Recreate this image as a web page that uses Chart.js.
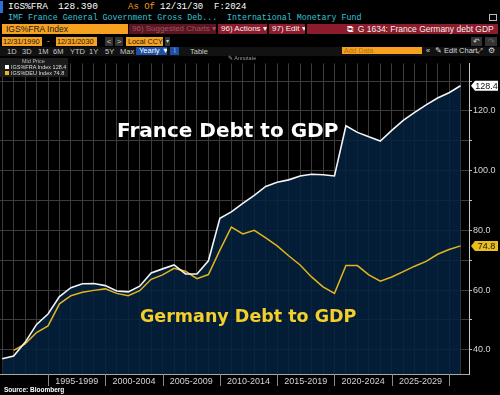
<!DOCTYPE html>
<html>
<head>
<meta charset="utf-8">
<script src="https://cdn.jsdelivr.net/npm/chart.js@4.4.1/dist/chart.umd.min.js"></script>
<style>
body { margin: 0; background: #000; width: 500px; height: 395px; overflow: hidden; position: relative; font-family: "Liberation Sans", Arial, sans-serif; }
.a { position: absolute; white-space: nowrap; }
.mono { font-family: "Liberation Mono", "DejaVu Sans Mono", monospace; }
.box { position: absolute; white-space: nowrap; box-sizing: border-box; overflow: hidden; }
.or { background: #f6a11f; color: #1a1a1a; }
.red { background: #8c1b2c; color: #f0f0f0; }
.btn { background: #333; color: #ccc; text-align: center; }
#wrap { position: absolute; left: 0; top: 57px; width: 500px; height: 338px; }
.big { position: absolute; white-space: nowrap; font-family: "DejaVu Sans", Verdana, sans-serif; font-weight: bold; z-index: 5; }
</style>
</head>
<body>
<!-- header rows -->
<div class="box" style="left:0;top:1px;width:3px;height:12px;background:#2f6fd8"></div>
<div class="a mono" style="left:8px;top:0;font-size:9.5px;line-height:14px;color:#fff">IGS%FRA</div>
<div class="a mono" style="left:58px;top:0;font-size:9.5px;line-height:14px;color:#fff">128.390</div>
<div class="a mono" style="left:128px;top:0;font-size:9px;line-height:14px;color:#f39a1e">As Of</div>
<div class="a mono" style="left:160px;top:0;font-size:9px;line-height:14px;color:#fff">12/31/30</div>
<div class="a mono" style="left:214px;top:0;font-size:9px;line-height:14px;color:#fff">F:2024</div>

<div class="a mono" style="left:8px;top:12px;font-size:8.3px;line-height:12px;color:#36c4d6">IMF France General Government Gross Deb...</div>
<div class="a mono" style="left:227px;top:12px;font-size:8.3px;line-height:12px;color:#36c4d6">International Monetary Fund</div>
<div class="box" style="left:489px;top:14px;width:8px;height:7px;border:1px solid #bbb"></div>

<div class="box or" style="left:2px;top:24px;width:126px;height:10px;font-size:8.5px;line-height:10px;padding-left:4px">IGS%FRA Index</div>
<div class="box" style="left:129px;top:24px;width:87px;height:10px;background:#5a1520;color:#9a5560;font-size:8px;line-height:10px;padding-left:3px">96) Suggested Charts ▾</div>
<div class="box red" style="left:218px;top:24px;width:49px;height:10px;font-size:8px;line-height:10px;padding-left:3px">96) Actions ▾</div>
<div class="box red" style="left:269px;top:24px;width:36px;height:10px;font-size:8px;line-height:10px;padding-left:3px">97) Edit ▾</div>
<div class="box red" style="left:307px;top:24px;width:191px;height:10px;font-size:8.5px;line-height:10px;padding-left:40px">⧉&nbsp; G 1634: France Germany debt GDP</div>

<div class="box or" style="left:2px;top:37px;width:40px;height:9px;font-size:7.3px;line-height:9px;padding-left:1px">12/31/1990</div>
<div class="a" style="left:47px;top:36px;font-size:8px;line-height:10px;color:#ccc">-</div>
<div class="box or" style="left:56px;top:37px;width:41px;height:9px;font-size:7.3px;line-height:9px;padding-left:1px">12/31/2030</div>
<div class="box btn" style="left:105px;top:37px;width:8px;height:9px;font-size:8px;line-height:9px">&lt;</div>
<div class="box btn" style="left:115px;top:37px;width:8px;height:9px;font-size:8px;line-height:9px">&gt;</div>
<div class="box or" style="left:126px;top:37px;width:37px;height:9px;font-size:7.3px;line-height:9px;padding-left:2px">Local CCY</div>
<div class="box btn" style="left:165px;top:37px;width:5px;height:9px;font-size:6px;line-height:9px">▾</div>
<div class="box btn" style="left:471px;top:37px;width:11px;height:9px;font-size:8px;line-height:9px">↶</div>
<div class="box btn" style="left:485px;top:37px;width:12px;height:9px;font-size:8px;line-height:9px;color:#666">↷</div>

<div class="box" style="left:0;top:47px;width:500px;height:9px;background:#121212"></div>
<div class="a" style="left:7px;top:47px;font-size:7.5px;line-height:9px;color:#c8c8c8">1D</div>
<div class="a" style="left:22px;top:47px;font-size:7.5px;line-height:9px;color:#c8c8c8">3D</div>
<div class="a" style="left:38px;top:47px;font-size:7.5px;line-height:9px;color:#c8c8c8">1M</div>
<div class="a" style="left:53px;top:47px;font-size:7.5px;line-height:9px;color:#c8c8c8">6M</div>
<div class="a" style="left:70px;top:47px;font-size:7.5px;line-height:9px;color:#c8c8c8">YTD</div>
<div class="a" style="left:89px;top:47px;font-size:7.5px;line-height:9px;color:#c8c8c8">1Y</div>
<div class="a" style="left:105px;top:47px;font-size:7.5px;line-height:9px;color:#c8c8c8">5Y</div>
<div class="a" style="left:120px;top:47px;font-size:7.5px;line-height:9px;color:#c8c8c8">Max</div>
<div class="box" style="left:136px;top:47px;width:31px;height:8px;background:#1d4fa6;color:#fff;font-size:7.5px;line-height:8px;padding-left:3px">Yearly ▼</div>
<div class="box" style="left:170px;top:47px;width:9px;height:8px;background:#1d4fa6;color:#9cc0ff;font-size:7px;line-height:8px;text-align:center">⌇</div>
<div class="a" style="left:190px;top:47px;font-size:7.5px;line-height:9px;color:#c8c8c8">Table</div>
<div class="box" style="left:342px;top:47px;width:80px;height:7px;background:#f6a11f;color:#b8700e;font-size:7px;line-height:7px;padding-left:2px">Add Data</div>
<div class="a" style="left:426px;top:47px;font-size:7.5px;line-height:8px;color:#ddd">«</div>
<div class="a" style="left:435px;top:47px;font-size:7.5px;line-height:8px;color:#ddd">✎ Edit Chart</div>
<div class="a" style="left:477px;top:47px;font-size:7px;line-height:8px;color:#ddd">⤢</div>
<div class="a" style="left:488px;top:47px;font-size:8px;line-height:8px;color:#ddd">⚙</div>
<div class="a" style="left:228px;top:55px;font-size:5.5px;line-height:6px;color:#999;z-index:6">✎ Annotate</div>

<div id="wrap"><canvas id="myChart"></canvas></div>

<!-- legend box -->
<div class="box" id="legend" style="left:0;top:58px;width:68px;height:19px;background:rgba(32,32,32,0.85);z-index:5;font-size:5.5px;line-height:6px;color:#ddd">
  <div class="a" style="left:22px;top:0;color:#bbb">Mid Price</div>
  <div class="box" style="left:5px;top:7px;width:4px;height:4px;background:#fff"></div>
  <div class="a" id="lg1" style="left:11px;top:6px"></div>
  <div class="box" style="left:5px;top:13px;width:4px;height:4px;background:#e8b51e"></div>
  <div class="a" id="lg2" style="left:11px;top:12px"></div>
</div>

<div class="big" style="left:117px;top:120px;font-size:20px;line-height:20px;color:#fff">France Debt to GDP</div>
<div class="big" style="left:140px;top:307px;font-size:17.5px;line-height:18px;color:#f4cf2c">Germany Debt to GDP</div>
<div class="a" style="left:4px;top:386px;font-size:6.5px;line-height:7px;font-weight:bold;color:#fff;z-index:5">Source: Bloomberg</div>

<script>
var years = [1990, 1991, 1992, 1993, 1994, 1995, 1996, 1997, 1998, 1999,
             2000, 2001, 2002, 2003, 2004, 2005, 2006, 2007, 2008, 2009,
             2010, 2011, 2012, 2013, 2014, 2015, 2016, 2017, 2018, 2019,
             2020, 2021, 2022, 2023, 2024, 2025, 2026, 2027, 2028, 2029, 2030];
var france = [37.0, 37.9, 42.5, 48.5, 52.0, 57.8, 60.8, 62.1, 62.2, 61.5,
              59.7, 59.4, 61.3, 65.7, 67.1, 68.4, 65.4, 65.4, 69.8, 84.0,
              86.2, 89.0, 91.7, 94.7, 96.1, 96.9, 98.2, 98.8, 98.6, 98.2,
              115.0, 112.8, 111.3, 109.9, 113.5, 116.8, 119.5, 122.0, 124.3, 126.1, 128.4];
var germany = [null, 39.8, 42.0, 45.8, 48.0, 55.4, 58.1, 59.3, 59.9, 60.4,
               58.9, 58.1, 59.8, 63.6, 65.1, 67.3, 66.3, 63.8, 65.2, 73.4,
               81.1, 78.8, 80.0, 77.5, 74.8, 71.5, 68.4, 64.4, 61.1, 58.9,
               68.2, 68.2, 65.1, 63.0, 64.4, 66.2, 68.0, 69.6, 72.0, 73.6, 74.8];
var yTicks = [40, 50, 60, 70, 80, 90, 100, 110, 120, 130];
var periodStarts = [1995, 2000, 2005, 2010, 2015, 2020, 2025];

var lastFra = france[france.length - 1];
var lastDeu = germany[germany.length - 1];
document.getElementById("lg1").textContent = "IGS%FRA Index " + lastFra.toFixed(1);
document.getElementById("lg2").textContent = "IGS%DEU Index " + lastDeu.toFixed(1);

// points sit at year end, so a period 1995-1999 runs from 1994 to 1999 on the axis
function pts(vals) {
    return years.map(function (y, i) { return { x: y, y: vals[i] }; });
}

var separators = {
    id: 'separators',
    afterDraw: function (chart) {
        var c = chart.ctx, xs = chart.scales.x, a = chart.chartArea;
        c.save();
        c.strokeStyle = '#8a8a8a';
        c.lineWidth = 1;
        periodStarts.concat([2030]).forEach(function (p) {
            var px = Math.round(xs.getPixelForValue(p - 1)) + 0.5;
            c.beginPath();
            c.moveTo(px, a.bottom);
            c.lineTo(px, a.bottom + 12);
            c.stroke();
        });
        c.restore();
    }
};

var lastTags = {
    id: 'lastTags',
    afterDraw: function (chart) {
        var c = chart.ctx, ys = chart.scales.y, a = chart.chartArea;
        var tags = [[lastFra, '#ffffff'], [lastDeu, '#e8bf1e']];
        c.save();
        c.font = '9px "Liberation Sans", Arial, sans-serif';
        c.textBaseline = 'middle';
        c.textAlign = 'center';
        tags.forEach(function (t) {
            var py = ys.getPixelForValue(t[0]);
            var x0 = a.right + 2, x1 = a.right + 6, x2 = 498;
            c.fillStyle = t[1];
            c.beginPath();
            c.moveTo(x0, py);
            c.lineTo(x1, py - 5);
            c.lineTo(x2, py - 5);
            c.lineTo(x2, py + 5);
            c.lineTo(x1, py + 5);
            c.closePath();
            c.fill();
            c.fillStyle = '#111';
            c.fillText(t[0].toFixed(1), (x1 + x2) / 2, py + 0.5);
        });
        c.restore();
    }
};

var ctx = document.getElementById("myChart");
var myChart = new Chart(ctx, {
    type: 'line',
    data: {
        datasets: [{
            label: "IGS%FRA Index",
            data: pts(france),
            borderColor: "#f4f4f4",
            borderWidth: 1.6,
            backgroundColor: "rgba(4,34,64,0.86)",
            fill: 'start',
            pointRadius: 0,
            tension: 0
        }, {
            label: "IGS%DEU Index",
            data: pts(germany),
            borderColor: "#e4b41c",
            borderWidth: 1.5,
            fill: false,
            pointRadius: 0,
            tension: 0
        }]
    },
    options: {
        responsive: true,
        maintainAspectRatio: false,
        animation: false,
        layout: { padding: 0 },
        plugins: {
            legend: { display: false },
            tooltip: { enabled: false },
            filler: { drawTime: 'beforeDatasetsDraw' }
        },
        scales: {
            x: {
                type: 'linear',
                min: 1989.81,
                max: 2030.74,
                afterBuildTicks: function (scale) {
                    var t = years.map(function (y) { return { value: y }; });
                    periodStarts.forEach(function (p) { t.push({ value: p + 1.5 }); });
                    t.sort(function (a, b) { return a.value - b.value; });
                    scale.ticks = t;
                },
                afterFit: function (scale) { scale.height = 21; },
                grid: {
                    color: function (c) {
                        return c.tick && Number.isInteger(c.tick.value) ? '#3c3c3c' : 'rgba(0,0,0,0)';
                    },
                    borderDash: [1, 2],
                    drawTicks: false
                },
                border: { display: true, color: '#a8a8a8', width: 1 },
                ticks: {
                    autoSkip: false,
                    maxRotation: 0,
                    padding: 2,
                    color: '#d4d4d4',
                    font: { family: '"Liberation Sans", Arial, sans-serif', size: 9 },
                    callback: function (v) {
                        if (Number.isInteger(v)) return '';
                        var s = v - 1.5;
                        return s + '-' + (s + 4);
                    }
                }
            },
            y: {
                position: 'right',
                min: 31.9,
                max: 135.9,
                afterBuildTicks: function (scale) {
                    scale.ticks = yTicks.map(function (v) { return { value: v }; });
                },
                afterFit: function (scale) { scale.width = 31; },
                grid: {
                    color: '#3c3c3c',
                    borderDash: [1, 2],
                    tickColor: '#bdbdbd',
                    tickLength: 3
                },
                border: { display: true, color: '#c8c8c8', width: 1 },
                ticks: {
                    padding: 1,
                    color: '#d4d4d4',
                    font: { family: '"Liberation Sans", Arial, sans-serif', size: 9 },
                    callback: function (v) { return v % 20 === 0 ? v.toFixed(1) : ''; }
                }
            }
        }
    },
    plugins: [separators, lastTags]
});
</script>
</body>
</html>
